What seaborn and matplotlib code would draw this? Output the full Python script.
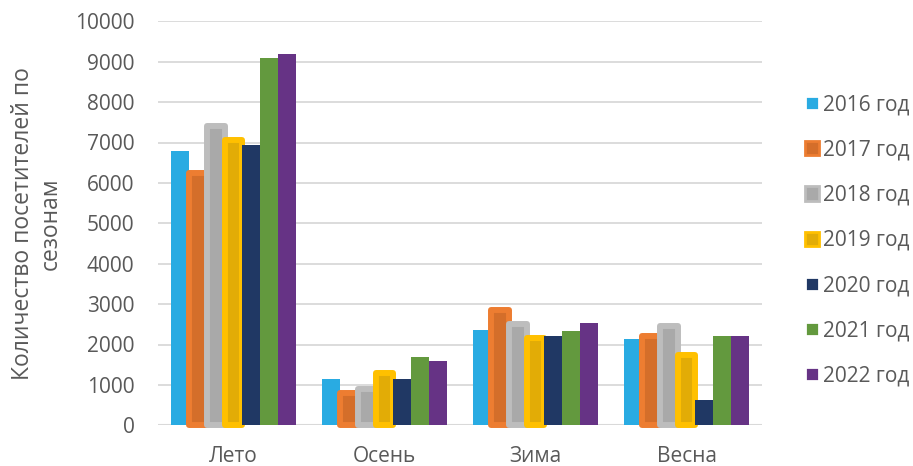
import matplotlib
matplotlib.use('Agg')
import matplotlib.pyplot as plt
import seaborn as sns
import pandas as pd

seasons = ['Лето', 'Осень', 'Зима', 'Весна']
years = ['2016 год', '2017 год', '2018 год', '2019 год', '2020 год', '2021 год', '2022 год']
v2016 = [6800, 1150, 2350, 2130]
v2017 = [6250, 800, 2850, 2200]
v2018 = [7400, 900, 2500, 2450]
v2019 = [7050, 1300, 2150, 1750]
v2020 = [6950, 1150, 2220, 620]
v2021 = [9100, 1700, 2330, 2200]
v2022 = [9200, 1580, 2520, 2200]
yticks = [0, 1000, 2000, 3000, 4000, 5000, 6000, 7000, 8000, 9000, 10000]

series = [v2016, v2017, v2018, v2019, v2020, v2021, v2022]
rows = []
for y, vals in zip(years, series):
    for s, v in zip(seasons, vals):
        rows.append({'season': s, 'year': y, 'value': v})
df = pd.DataFrame(rows)

face = ['#29ABE2', '#D46E2A', '#A9A9A9', '#E2AC06', '#203864', '#63993E', '#663385']
edge = [None, '#ED7D31', '#BDBDBD', '#FFC000', None, None, None]

sns.set_style('white')
plt.rcParams['font.family'] = ['Open Sans', 'DejaVu Sans']

fig = plt.figure(figsize=(9.13, 4.66), dpi=100)
ax = fig.add_axes([158/913, 1-425.3/466, (762-158)/913, (425.3-21.3)/466])

sns.barplot(data=df, x='season', y='value', hue='year', order=seasons, hue_order=years,
            palette=face, width=0.83, errorbar=None, ax=ax, legend=False, saturation=1)

handles = []
for i, cont in enumerate(ax.containers):
    for p in cont.patches:
        p.set_clip_on(False)
        p.set_facecolor(face[i])
        if edge[i]:
            p.set_edgecolor(edge[i])
            p.set_linewidth(4.3)
            p.set_joinstyle('round')
        else:
            p.set_linewidth(0)
    handles.append(cont.patches[0])

ax.set_ylim(0, 10000)
ax.set_yticks(yticks)
ax.set_yticklabels([str(t) for t in yticks])
ax.yaxis.grid(True, color='#D9D9D9', linewidth=1.3)
ax.set_axisbelow(True)
for sp in ax.spines.values():
    sp.set_visible(False)
ax.axhline(0, color='#D9D9D9', linewidth=1.5, zorder=0.95)
ax.tick_params(axis='both', length=0, labelsize=15, labelcolor='#595959')
ax.tick_params(axis='y', pad=17)
ax.tick_params(axis='x', pad=15)
ax.set_xlabel('')
ax.set_ylabel('Количество посетителей по\nсезонам', fontsize=16.5, color='#595959',
              linespacing=1.2)
ax.yaxis.set_label_coords(-0.158, 0.5)

leg = fig.legend(handles, years, loc='center left', bbox_to_anchor=(805/913, 1-240.5/466),
                 frameon=False, fontsize=15, labelcolor='#595959', handlelength=0.67,
                 handleheight=0.67, handletextpad=0.2, labelspacing=1.16,
                 borderpad=0, borderaxespad=0)
for h in leg.legend_handles:
    h.set_linewidth(2)

fig.savefig('out.png', dpi=100)
